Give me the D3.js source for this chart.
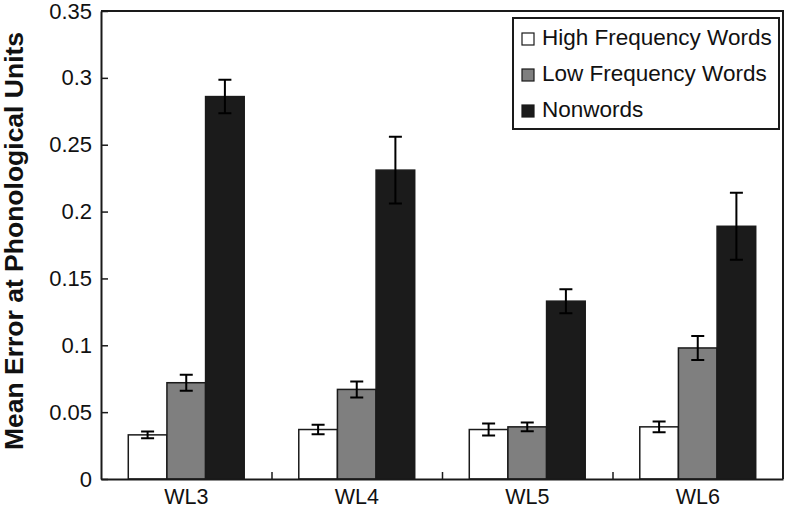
<!DOCTYPE html>
<html>
<head>
<meta charset="utf-8">
<script src="https://cdn.jsdelivr.net/npm/d3@7"></script>
<style>
    body { margin: 0; background: #fff; }
    svg text { font-family: "Liberation Sans", Arial, sans-serif; fill: #111; }
</style>
</head>
<body>
<div id="chart"></div>
<script>
/*
** Data
*/
var categories = ["WL3", "WL4", "WL5", "WL6"]
  , series = ["High Frequency Words", "Low Frequency Words", "Nonwords"]
  , highFreq = [0.033, 0.037, 0.037, 0.039]
  , highFreqErr = [0.0025, 0.0035, 0.0045, 0.004]
  , lowFreq = [0.072, 0.067, 0.039, 0.098]
  , lowFreqErr = [0.006, 0.006, 0.0032, 0.009]
  , nonwords = [0.286, 0.231, 0.133, 0.189]
  , nonwordsErr = [0.0125, 0.025, 0.009, 0.025]
  , yTicks = [0, 0.05, 0.1, 0.15, 0.2, 0.25, 0.3, 0.35]
;

/*
** Layout
*/
var W = 787
  , H = 509
  , margin = {top: 11, right: 4, bottom: 30, left: 101}
  , width = W - margin.left - margin.right
  , height = H - margin.top - margin.bottom
  , fills = ["#ffffff", "#7f7f7f", "#1b1b1b"]
  , ink = "#1a1a1a"
;

var values = [highFreq, lowFreq, nonwords]
  , errors = [highFreqErr, lowFreqErr, nonwordsErr]
  , rows = []
;
categories.forEach(function(c, i) {
    series.forEach(function(s, j) {
        rows.push({cat: c, series: s, idx: j, value: values[j][i], err: errors[j][i]});
    });
});

var x0 = d3.scaleBand()
        .domain(categories)
        .range([0, width])
        .paddingInner(0.32)
        .paddingOuter(0.16)
  , x1 = d3.scaleBand()
        .domain(series)
        .range([0, x0.bandwidth()])
  , xEdge = d3.scaleLinear()
        .domain([0, categories.length])
        .range([0, width])
  , y = d3.scaleLinear()
        .domain([0, 0.35])
        .range([height, 0])
;

var svg = d3.select("#chart")
  .append("svg")
    .attr("width", W)
    .attr("height", H)
;
var canvas = svg.append("g")
    .attr("transform", "translate(" + margin.left + "," + margin.top + ")")
;

// top and right frame
canvas.append("path")
    .attr("d", "M0,0H" + width + "V" + height)
    .attr("fill", "none")
    .attr("stroke", ink)
    .attr("stroke-width", 2)
;

/*
** Bars and error bars
*/
var bar = canvas.selectAll(".bar")
    .data(rows)
  .enter()
  .append("g")
    .attr("class", "bar")
    .attr("transform", function(d) { return "translate(" + (x0(d.cat) + x1(d.series)) + ",0)"; })
;
bar.append("rect")
    .attr("x", 0)
    .attr("y", function(d) { return y(d.value); })
    .attr("width", x1.bandwidth())
    .attr("height", function(d) { return height - y(d.value); })
    .attr("fill", function(d) { return fills[d.idx]; })
    .attr("stroke", ink)
    .attr("stroke-width", 1.5)
;
var cx = x1.bandwidth() / 2
  , cap = 6.5
;
bar.append("path")
    .attr("d", function(d) {
        var hi = y(d.value + d.err), lo = y(d.value - d.err);
        return "M" + cx + "," + hi + "V" + lo
             + "M" + (cx - cap) + "," + hi + "H" + (cx + cap)
             + "M" + (cx - cap) + "," + lo + "H" + (cx + cap);
      })
    .attr("fill", "none")
    .attr("stroke", "#000")
    .attr("stroke-width", 2)
;

/*
** Axes
*/
var yAxis = d3.axisLeft(y)
    .tickValues(yTicks)
    .tickFormat(function(d) { return d; })
    .tickSizeInner(-7)
    .tickSizeOuter(0)
    .tickPadding(9)
;
var gy = canvas.append("g").call(yAxis);
gy.select(".domain").attr("stroke", ink).attr("stroke-width", 2);
gy.selectAll(".tick line").attr("stroke", ink).attr("stroke-width", 1.5);
gy.selectAll(".tick text")
    .style("font-size", "22px")
    .attr("fill", "#111")
;

var xEdges = d3.axisBottom(xEdge)
    .tickValues([1, 2, 3])
    .tickFormat("")
    .tickSizeInner(-7)
    .tickSizeOuter(0)
;
var ge = canvas.append("g")
    .attr("transform", "translate(0," + height + ")")
    .call(xEdges)
;
ge.select(".domain").attr("stroke", ink).attr("stroke-width", 2);
ge.selectAll(".tick line").attr("stroke", ink).attr("stroke-width", 1.5);

var xAxis = d3.axisBottom(x0)
    .tickSize(0)
    .tickPadding(10)
;
var gx = canvas.append("g")
    .attr("transform", "translate(0," + height + ")")
    .call(xAxis)
;
gx.select(".domain").remove();
gx.selectAll(".tick text")
    .style("font-size", "21.5px")
    .attr("fill", "#111")
;

svg.append("text")
    .attr("transform", "translate(23," + 241 + ") rotate(-90)")
    .attr("text-anchor", "middle")
    .style("font-size", "26.5px")
    .style("font-weight", "bold")
    .text("Mean Error at Phonological Units")
;

/*
** Legend
*/
var legend = canvas.append("g")
    .attr("transform", "translate(" + (width - 270) + ",7)")
;
legend.append("rect")
    .attr("width", 266)
    .attr("height", 111)
    .attr("fill", "#fff")
    .attr("stroke", ink)
    .attr("stroke-width", 2)
;
var item = legend.selectAll(".item")
    .data(series)
  .enter()
  .append("g")
    .attr("class", "item")
    .attr("transform", function(d, i) { return "translate(9," + (15 + i * 36) + ")"; })
;
item.append("rect")
    .attr("width", 12)
    .attr("height", 12)
    .attr("fill", function(d, i) { return fills[i]; })
    .attr("stroke", ink)
    .attr("stroke-width", 1.2)
;
item.append("text")
    .attr("x", 20)
    .attr("y", 12)
    .style("font-size", "22.5px")
    .text(function(d) { return d; })
;
</script>
</body>
</html>
